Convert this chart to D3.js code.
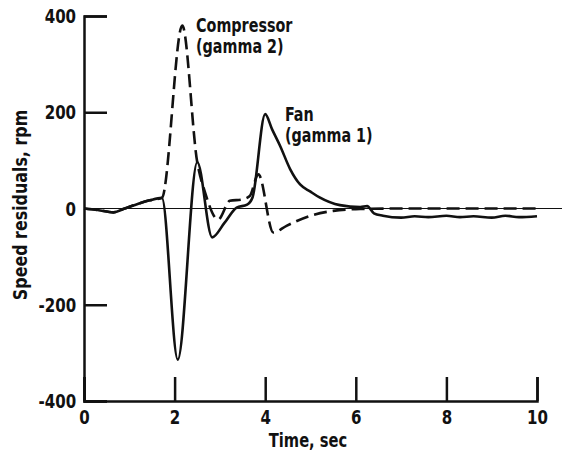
<!DOCTYPE html>
<html>
<head>
<meta charset="UTF-8">
<script src="https://d3js.org/d3.v7.min.js"></script>
<style>
  body { margin: 0; background: #fff; }
  text { font-family: "DejaVu Sans Condensed", "DejaVu Sans", sans-serif; font-weight: bold; fill: #111; }
</style>
</head>
<body>
<svg width="564" height="457"></svg>
<script>
// Fan (gamma 1), solid
const fanT = [0, 0.3, 0.65, 0.9, 1.2, 1.45, 1.72, 2.07, 2.5, 2.83, 3.1, 3.37, 3.6, 3.72, 4.0, 4.15, 4.33, 4.55, 4.77, 5.0, 5.2, 5.65, 6.1, 6.25, 6.4, 6.6, 7.0, 7.3, 7.6, 8.0, 8.3, 8.6, 9.0, 9.3, 9.6, 10.0];
const fanV = [0, -3, -8, 0, 10, 17, 22, -314, 96, -60, -30, 2, 8, 23, 196, 165, 130, 82, 50, 35, 23, 7, 3, 5, -10, -15, -19, -16, -18, -15, -18, -16, -19, -15, -18, -16];
// Compressor (gamma 2), dashed
const compT = [0, 0.3, 0.65, 0.9, 1.2, 1.45, 1.72, 2.17, 2.5, 2.67, 2.96, 3.22, 3.5, 3.66, 3.85, 4.18, 4.47, 5.0, 5.5, 6.1, 7, 8, 9, 10.1];
const compV = [0, -3, -8, 0, 10, 17, 22, 380, 96, 34, -23, 16, 19, 26, 71, -50, -36, -15, -5, -1, 0, 0, 0, 0];

const xTicks = [0, 2, 4, 6, 8, 10];
const yTicks = [-400, -200, 200, 400];

const svg = d3.select("svg");
const x = d3.scaleLinear().domain([0, 10]).range([84, 537]);
const y = d3.scaleLinear().domain([-400, 400]).range([401, 16]);

const fan = fanT.map((t, i) => [t, fanV[i]]);
const comp = compT.map((t, i) => [t, compV[i]]);

const line = d3.line().x(d => x(d[0])).y(d => y(d[1])).curve(d3.curveMonotoneX);

// zero line
svg.append("line")
   .attr("x1", x(0)).attr("x2", 562)
   .attr("y1", y(0)).attr("y2", y(0))
   .attr("stroke", "#111").attr("stroke-width", 1.2);

// axes with inward ticks
const gx = svg.append("g")
   .attr("transform", `translate(0,${y(-400)})`)
   .call(d3.axisBottom(x).tickValues(xTicks).tickSize(-24).tickFormat(d => String(d)));
const gy = svg.append("g")
   .attr("transform", `translate(${x(0)},0)`)
   .call(d3.axisLeft(y).tickValues(yTicks).tickSize(-23).tickFormat(d => String(d)));

[gx, gy].forEach(g => {
  g.select(".domain").attr("stroke", "#111").attr("stroke-width", 2.5);
  g.selectAll(".tick line").attr("stroke", "#111").attr("stroke-width", 2.5);
  g.selectAll(".tick text").attr("font-size", 19).attr("fill", "#111");
});
gy.selectAll(".tick line").attr("x1", 0);
gx.selectAll(".tick text").attr("dy", "0").attr("y", 23).attr("transform", "scale(0.88,1)");
gy.selectAll(".tick text").attr("x", -9).attr("dy", "0.35em").attr("transform", "scale(0.88,1)");

// narrow lettering
function label(tx, ty, s, str, anchor, rot) {
  return svg.append("text")
    .attr("transform", `translate(${tx},${ty})` + (rot ? ` rotate(${rot})` : "") + ` scale(${s},1)`)
    .attr("text-anchor", anchor || "start")
    .attr("font-size", 19).text(str);
}

label(x(0) - 8, y(0) + 7, 0.88, "0", "end");

// curves
svg.append("path").datum(fan).attr("d", line)
   .attr("fill", "none").attr("stroke", "#111").attr("stroke-width", 2.6).attr("stroke-linejoin", "round");
svg.append("path").datum(comp).attr("d", line)
   .attr("fill", "none").attr("stroke", "#111").attr("stroke-width", 2.6)
   .attr("stroke-dasharray", "13,6");

label(196, 32, 0.84, "Compressor");
label(196, 53, 0.84, "(gamma 2)");
label(285, 121, 0.84, "Fan");
label(285, 142, 0.84, "(gamma 1)");
label(308, 447, 0.86, "Time, sec", "middle");
label(27, 205, 0.93, "Speed residuals, rpm", "middle", -90);
</script>
</body>
</html>
